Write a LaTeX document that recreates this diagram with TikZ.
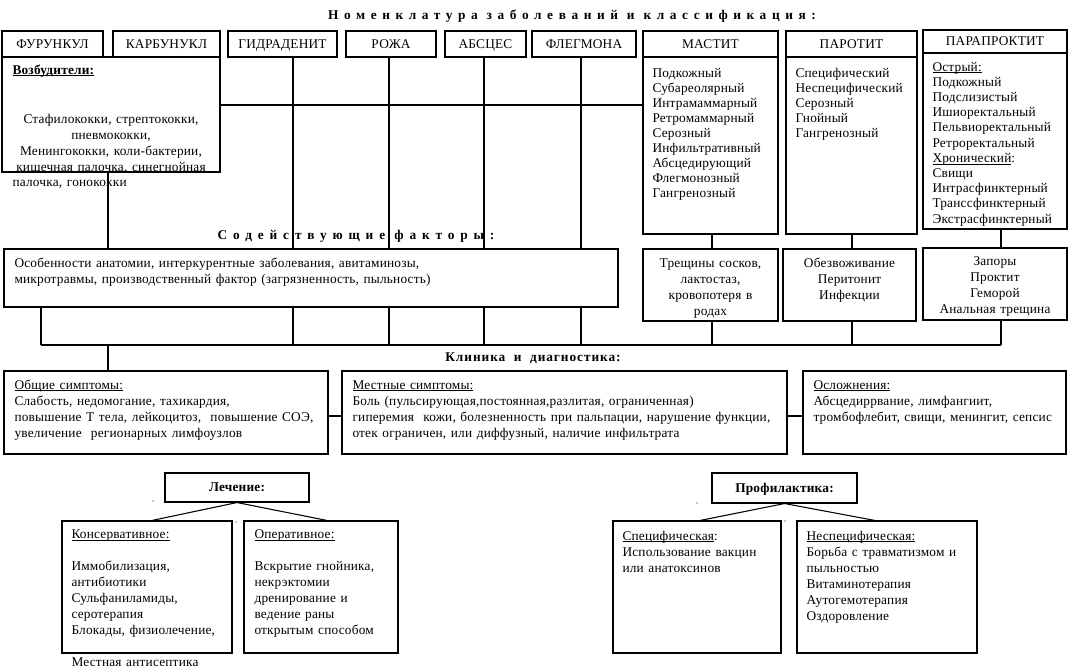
\documentclass[tikz,border=0pt]{standalone}
\usepackage{fontspec}
\setmainfont[LetterSpace=1.5,WordSpace=1.3]{Liberation Serif}
\newfontfamily\titlefam[LetterSpace=42]{Liberation Serif}
\newfontfamily\factfam[LetterSpace=44]{Liberation Serif}
\newfontfamily\klinfam[LetterSpace=7]{Liberation Serif}
\usetikzlibrary{fit}
\newcommand\fsA{\fontsize{10}{12}\selectfont}
\newcommand\fsB{\fontsize{10}{11.25}\selectfont}
\newcommand\fsC{\fontsize{10}{11.4}\selectfont}
\newcommand\ulx[1]{\setbox0\hbox{#1}\rlap{\rule[-1.4pt]{\wd0}{0.55pt}}\box0}
\begin{document}
\begin{tikzpicture}[x=0.75pt,y=-0.75pt,
  line width=0.8pt,
  bx/.style={draw=black, inner sep=0pt},
  hdr/.style={inner sep=0pt, font=\fsA, anchor=base, yshift=-3.3pt},
  txt/.style={inner sep=0pt, font=\fsA, align=left, anchor=north west},
  txtc/.style={inner sep=0pt, font=\fsA, align=center, anchor=north},
  lbl/.style={inner sep=0pt, font=\fsA, anchor=west},
  ln/.style={draw=black, line width=0.8pt}]
\fill[white] (0,0) rectangle (1069,670);
\useasboundingbox (0,0) rectangle (1069,670);

% ---------- title
\node[inner sep=0pt, font=\titlefam\bfseries] (title) at (572,16) {Номенклатура заболеваний и классификация:};

% ---------- top row
\node[bx, fit={(2,31) (103,57)}] (fur) {};
\node[hdr] (furT) at (fur.center) {ФУРУНКУЛ};
\node[bx, fit={(113,31) (220,57)}] (karb) {};
\node[hdr] (karbT) at (karb.center) {КАРБУНУКЛ};
\node[bx, fit={(228,31) (337,57)}] (gidr) {};
\node[hdr] (gidrT) at (gidr.center) {ГИДРАДЕНИТ};
\node[bx, fit={(346,31) (436,57)}] (rozha) {};
\node[hdr] (rozhaT) at (rozha.center) {РОЖА};
\node[bx, fit={(445,31) (526,57)}] (absc) {};
\node[hdr] (abscT) at (absc.center) {АБСЦЕС};
\node[bx, fit={(532,31) (636,57)}] (flegm) {};
\node[hdr] (flegmT) at (flegm.center) {ФЛЕГМОНА};
\node[bx, fit={(643,31) (778,57)}] (mastH) {};
\node[hdr] (mastHT) at (mastH.center) {МАСТИТ};
\node[bx, fit={(643,57) (778,234)}] (mastB) {};
\node[bx, fit={(786,31) (917,57)}] (parH) {};
\node[hdr] (parHT) at (parH.center) {ПАРОТИТ};
\node[bx, fit={(786,57) (917,234)}] (parB) {};
\node[bx, fit={(923,30) (1067,53)}] (pprH) {};
\node[hdr] (pprHT) at (pprH.center) {ПАРАПРОКТИТ};
\node[bx, fit={(923,53) (1067,229)}] (pprB) {};

% ---------- pathogens box
\node[bx, fit={(2,57) (220,172)}] (vozb) {};
\node[lbl, font=\fsA\bfseries] (vozbT) at (12,71) {\ulx{Возбудители:}};
\node[txtc] (vozbL) at (111,111.3) {\strut Стафилококки, стрептококки,\\ пневмококки,\\ Менингококки, коли-бактерии,\\ кишечная палочка, синегнойная};
\node[lbl] (vozbE) at (12,184) {палочка, гонококки};

% ---------- column lists
\node[txt, font=\fsB] (mastL) at (652,66) {\strut Подкожный\\ Субареолярный\\ Интрамаммарный\\ Ретромаммарный\\ Серозный\\ Инфильтративный\\ Абсцедирующий\\ Флегмонозный\\ Гангренозный};
\node[txt, font=\fsB] (parL) at (795,66) {\strut Специфический\\ Неспецифический\\ Серозный\\ Гнойный\\ Гангренозный};
\node[txt, font=\fsC] (pprL) at (932,60) {\strut\ulx{Острый:}\\ Подкожный\\ Подслизистый\\ Ишиоректальный\\ Пельвиоректальный\\ Ретроректальный\\ \ulx{Хронический}:\\ Свищи\\ Интрасфинктерный\\ Транссфинктерный\\ Экстрасфинктерный};

% ---------- contributing factors
\node[inner sep=0pt, font=\factfam\bfseries] (factT) at (356,236) {Содействующие факторы:};
\node[bx, fit={(4,249) (618,307)}] (fact) {};
\node[txt] (factL) at (14,255.3) {\strut Особенности анатомии, интеркурентные заболевания, авитаминозы,\\ микротравмы, производственный фактор (загрязненность, пыльность)};

\node[bx, fit={(643,249) (778,321)}] (trigM) {};
\node[txtc] (trigMT) at (710.5,255.3) {\strut Трещины сосков,\\ лактостаз,\\ кровопотеря в\\ родах};
\node[bx, fit={(783,249) (916,321)}] (trigP) {};
\node[txtc] (trigPT) at (849.5,255.3) {\strut Обезвоживание\\ Перитонит\\ Инфекции};
\node[bx, fit={(923,248) (1067,320)}] (trigR) {};
\node[txtc] (trigRT) at (995,253.3) {\strut Запоры\\ Проктит\\ Геморой\\ Анальная трещина};

% ---------- clinic
\node[inner sep=0pt, font=\klinfam\bfseries] (klinT) at (533,358) {Клиника\ \ и\ \ диагностика:};
\node[bx, fit={(4,371) (328,454)}] (obsh) {};
\node[txt] (obshL) at (14,377.3) {\strut\ulx{Общие симптомы:}\\ Слабость, недомогание, тахикардия,\\ повышение Т тела, лейкоцитоз,\ \ повышение СОЭ,\\ увеличение\ \ регионарных лимфоузлов};
\node[bx, fit={(342,371) (787,454)}] (mest) {};
\node[txt] (mestL) at (352,377.3) {\strut\ulx{Местные симптомы:}\\ Боль (пульсирующая,постоянная,разлитая, ограниченная)\\ гиперемия\ \ кожи, болезненность при пальпации, нарушение функции,\\ отек ограничен, или диффузный, наличие инфильтрата};
\node[bx, fit={(803,371) (1066,454)}] (osl) {};
\node[txt] (oslL) at (813,377.3) {\strut\ulx{Осложнения:}\\ Абсцедиррвание, лимфангиит,\\ тромбофлебит, свищи, менингит, сепсис};

% ---------- treatment
\node[bx, fit={(165,473) (309,502)}] (lech) {};
\node[hdr, font=\fsA\bfseries] (lechT) at (lech.center) {Лечение:};
\node[bx, fit={(62,521) (232,653)}] (kons) {};
\node[txt] (konsL) at (71,527) {\strut\ulx{Консервативное:}\\ \strut\\ Иммобилизация,\\ антибиотики\\ Сульфаниламиды,\\ серотерапия\\ Блокады, физиолечение,\\ \strut\\ Местная антисептика};
\node[bx, fit={(244,521) (398,653)}] (oper) {};
\node[txt] (operL) at (254,527) {\strut\ulx{Оперативное:}\\ \strut\\ Вскрытие гнойника,\\ некрэктомии\\ дренирование и\\ ведение раны\\ открытым способом};

% ---------- prophylaxis
\node[bx, fit={(712,473) (857,503)}] (prof) {};
\node[hdr, font=\fsA\bfseries] (profT) at (prof.center) {Профилактика:};
\node[bx, fit={(613,521) (781,653)}] (spec) {};
\node[txt] (specL) at (622,528.3) {\strut\ulx{Специфическая}:\\ Использование вакцин\\ или анатоксинов};
\node[bx, fit={(797,521) (977,653)}] (nspec) {};
\node[txt] (nspecL) at (806,528.3) {\strut\ulx{Неспецифическая:}\\ Борьба с травматизмом и\\ пыльностью\\ Витаминотерапия\\ Аутогемотерапия\\ Оздоровление};

% ---------- helper coordinates
\coordinate (y105) at (0,105);
\coordinate (y416) at (0,416);
\coordinate (x41) at (41,0);
\coordinate (x108) at (108,0);
\coordinate (x293) at (293,0);
\coordinate (x389) at (389,0);
\coordinate (x484) at (484,0);
\coordinate (x581) at (581,0);
\coordinate (x712) at (712,0);
\coordinate (x852) at (852,0);
\coordinate (x1001) at (1001,0);
\coordinate (x152) at (152,0);
\coordinate (x327) at (327,0);
\coordinate (x700) at (700,0);
\coordinate (x875) at (875,0);
\coordinate (busL) at (41,345);
\coordinate (busR) at (1001,345);

% ---------- connectors
\draw[ln] (vozb.east |- y105) -- (mastB.west |- y105);
\draw[ln] (x108 |- vozb.south) -- (x108 |- fact.north);
\draw[ln] (x293 |- gidr.south) -- (x293 |- fact.north);
\draw[ln] (x389 |- rozha.south) -- (x389 |- fact.north);
\draw[ln] (x484 |- absc.south) -- (x484 |- fact.north);
\draw[ln] (x581 |- flegm.south) -- (x581 |- fact.north);

\draw[ln] (busL) -- (busR);
\draw[ln] (x41 |- fact.south) -- (busL);
\draw[ln] (x293 |- fact.south) -- (x293 |- busL);
\draw[ln] (x389 |- fact.south) -- (x389 |- busL);
\draw[ln] (x484 |- fact.south) -- (x484 |- busL);
\draw[ln] (x581 |- fact.south) -- (x581 |- busL);

\draw[ln] (x712 |- mastB.south) -- (x712 |- trigM.north);
\draw[ln] (x852 |- parB.south) -- (x852 |- trigP.north);
\draw[ln] (x1001 |- pprB.south) -- (x1001 |- trigR.north);
\draw[ln] (x712 |- trigM.south) -- (x712 |- busL);
\draw[ln] (x852 |- trigP.south) -- (x852 |- busL);
\draw[ln] (x1001 |- trigR.south) -- (busR);

\draw[ln] (x108 |- busL) -- (x108 |- obsh.north);
\draw[ln] (obsh.east |- y416) -- (mest.west |- y416);
\draw[ln] (mest.east |- y416) -- (osl.west |- y416);

\draw[ln] (lech.south) -- (x152 |- kons.north);
\draw[ln] (lech.south) -- (x327 |- oper.north);
\draw[ln] (prof.south) -- (x700 |- spec.north);
\draw[ln] (prof.south) -- (x875 |- nspec.north);

% small specks
\fill (153,501) circle (0.6);
\fill (236,522) circle (0.6);
\fill (697,503) circle (0.6);
\fill (785,521) circle (0.6);
\end{tikzpicture}
\end{document}
